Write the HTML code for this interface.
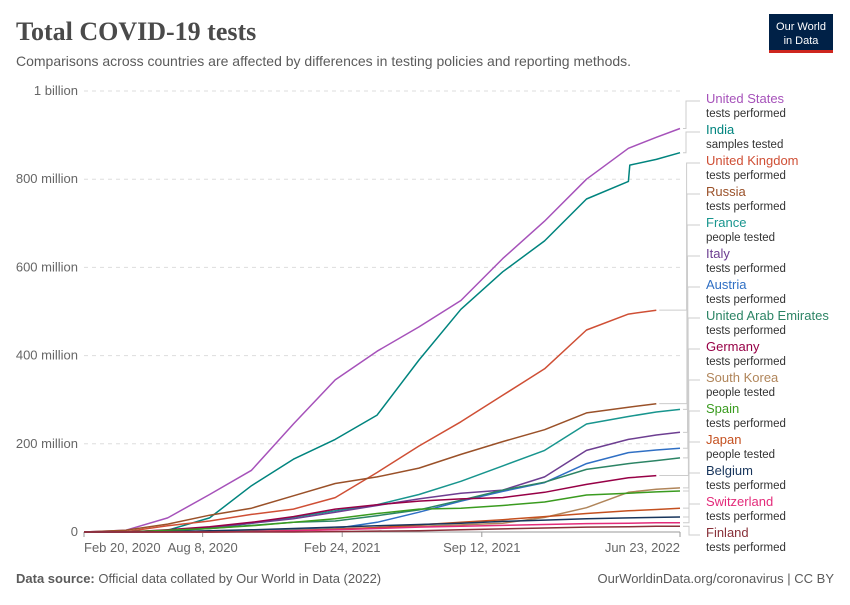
<!DOCTYPE html>
<html><head><meta charset="utf-8"><style>
body{margin:0;background:#fff;width:850px;height:600px;overflow:hidden;font-family:"Liberation Sans",sans-serif}
</style></head><body>
<svg id="chart" width="850" height="600" xmlns="http://www.w3.org/2000/svg">
<text x="16" y="40" font-family="Liberation Serif, serif" font-size="26" font-weight="bold" fill="#4a4a4a">Total COVID-19 tests</text>
<text x="16" y="66" font-size="14" fill="#5b5b5b">Comparisons across countries are affected by differences in testing policies and reporting methods.</text>
<g>
<rect x="769" y="14" width="64" height="37" fill="#002147"/>
<rect x="769" y="50" width="64" height="3" fill="#ce261e"/>
<text x="801" y="30" font-size="11" fill="#fff" text-anchor="middle">Our World</text>
<text x="801" y="44" font-size="11" fill="#fff" text-anchor="middle">in Data</text>
</g>
<g id="grid"></g><g id="lines"></g><g id="legend"></g>
<text x="16" y="583" font-size="13" fill="#5b5b5b"><tspan font-weight="bold">Data source:</tspan> Official data collated by Our World in Data (2022)</text>
<text x="834" y="583" font-size="13" fill="#5b5b5b" text-anchor="end">OurWorldinData.org/coronavirus | CC BY</text>
</svg>
<script>
const days=[0,60,120,180,240,300,360,420,480,540,600,660,720,780,782,820,854];
const countries=["United States","India","United Kingdom","Russia","France","Italy","Austria","United Arab Emirates","Germany","South Korea","Spain","Japan","Belgium","Switzerland","Finland"];
const metrics=["tests performed","samples tested","tests performed","tests performed","people tested","tests performed","tests performed","tests performed","tests performed","people tested","tests performed","people tested","tests performed","tests performed","tests performed"];
const colors=["#a652ba","#00847e","#cf4f35","#9a5129","#18958e","#6d3e91","#2f6fc4","#2c8465","#970046","#b0855a","#3a9b1f","#c4501f","#18355c","#e32b7a","#883039"];
const usVals=[0,4,32,85,140,245,345,410,465,525,620,705,800,870,null,895,915];
const indiaVals=[0,0,4,32,105,165,210,265,390,505,590,660,755,795,832,845,860];
const ukVals=[0,1,14,25,40,52,78,135,195,250,310,370,458,494,null,503,null];
const russiaVals=[0,4,18,38,54,82,110,125,145,176,205,232,270,283,null,291,null];
const franceVals=[0,0.5,3,8,20,33,48,62,85,115,150,185,245,262,null,272,278];
const italyVals=[0,0,4,10,20,30,45,60,75,88,95,125,185,210,null,220,226];
const austriaVals=[0,0,0,1,3,5,8,22,45,70,92,112,155,180,null,186,190];
const uaeVals=[0,0,3,8,15,22,25,37,50,72,95,113,142,155,null,162,168];
const germanyVals=[0,0,5,12,22,35,52,62,70,75,78,90,108,123,null,128,null];
const koreaVals=[0,0,0,0,2,4,7,10,13,16,20,33,55,90,null,97,100];
const spainVals=[0,0,4,8,14,22,30,42,52,54,60,68,84,88,null,91,93];
const japanVals=[0,0,0,0,1,3,6,10,16,22,28,35,42,48,null,51,54];
const belgiumVals=[0,0,1,3,5,8,11,14,17,20,24,27,30,32,null,33,34];
const switzVals=[0,0,0,0,1,3,5,8,11,13,15,17,19,20,null,21,21];
const finlandVals=[0,0,0,0,0,0,1,2,3,5,7,9,11,12,null,13,13];
const series=[usVals,indiaVals,ukVals,russiaVals,franceVals,italyVals,austriaVals,uaeVals,germanyVals,koreaVals,spainVals,japanVals,belgiumVals,switzVals,finlandVals];
const yTicks=[0,200,400,600,800,1000];
const yTickLabels=["0","200 million","400 million","600 million","800 million","1 billion"];
const xTickDays=[0,170,370,570,854];
const xTickLabels=["Feb 20, 2020","Aug 8, 2020","Feb 24, 2021","Sep 12, 2021","Jun 23, 2022"];

const NS="http://www.w3.org/2000/svg";
const X0=84,X1=680,Y0=532,Y1=91;
const x=d=>X0+(X1-X0)*d/854;
const y=v=>Y0-(Y0-Y1)*v/1000;
function mk(tag,attrs,parent,text){const e=document.createElementNS(NS,tag);for(const k in attrs)e.setAttribute(k,attrs[k]);if(text!=null)e.textContent=text;parent.appendChild(e);return e;}
const grid=document.getElementById('grid');
yTicks.forEach((t,i)=>{
  const l=mk('line',{x1:X0,x2:X1,y1:y(t),y2:y(t),stroke:'#ddd','stroke-dasharray':t===0?'none':'4,4'},grid);
  
  
  const tx=mk('text',{x:78,y:y(t)+4,'font-size':13,fill:'#666','text-anchor':'end'},grid,yTickLabels[i]);
  
  
});
mk('line',{x1:X0,x2:X1,y1:Y0,y2:Y0,stroke:'#999'},grid);
xTickDays.forEach((d,i)=>{
  mk('line',{x1:x(d),x2:x(d),y1:Y0,y2:Y0+5,stroke:'#999'},grid);
  const anchor=i===0?'start':(i===xTickDays.length-1?'end':'middle');
  const tx=mk('text',{x:x(d),y:Y0+20,'font-size':13,fill:'#666','text-anchor':anchor},grid,xTickLabels[i]);
  
  
});
const lines=document.getElementById('lines');
const ends=[];
series.forEach((vals,si)=>{
  let pts=[];let last=null;
  vals.forEach((v,i)=>{if(v!=null){pts.push(x(days[i]).toFixed(1)+','+y(v).toFixed(1));last=[x(days[i]),y(v)];}});
  const p=mk('polyline',{points:pts.join(' '),fill:'none',stroke:colors[si],'stroke-width':1.5,'stroke-linejoin':'round'},lines);
  
  
  ends.push(last);
});
const legend=document.getElementById('legend');
countries.forEach((c,i)=>{
  const ly=98+i*31;
  const e=ends[i];
  const cx=686+(i<2?0:Math.min(i,10)*0.3);
  mk('polyline',{points:`${e[0]+3},${e[1]} ${cx},${e[1]} ${cx},${ly+3} ${700},${ly+3}`,fill:'none',stroke:'#ccc','stroke-width':1},legend);
  const g=mk('g',{},legend);
  
  
  mk('text',{x:706,y:ly+5,'font-size':13,fill:colors[i]},g,c);
  mk('text',{x:706,y:ly+19,'font-size':11.5,fill:'#333'},g,metrics[i]);
});
</script>
</body></html>
